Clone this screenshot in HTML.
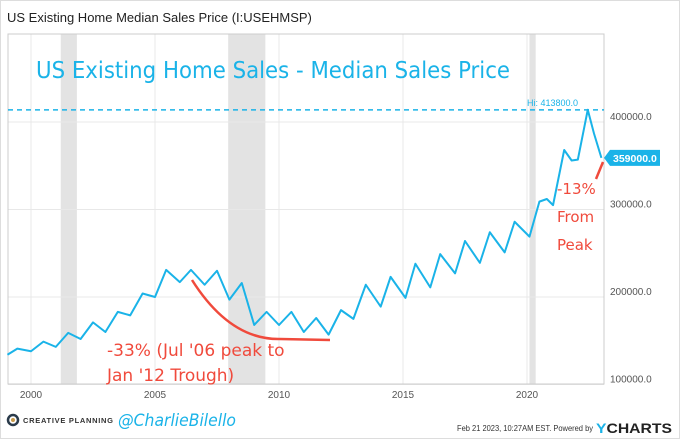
<!DOCTYPE html>
<html><head><meta charset="utf-8"><style>
html,body{margin:0;padding:0;background:#fff;}
body{width:680px;height:439px;overflow:hidden;position:relative;font-family:"Liberation Sans",sans-serif;}
</style></head><body>
<svg id="chart" width="680" height="439" style="position:absolute;left:0;top:0">
<rect x="0.5" y="0.5" width="679" height="438" fill="#fff" stroke="#ddd"/>
<text x="7" y="22" font-size="13" fill="#222">US Existing Home Median Sales Price (I:USEHMSP)</text>
<g id="rec"></g><g id="grid"></g>
<rect x="8" y="34" width="596" height="350" fill="none" stroke="#ccc"/>
<g id="ticks"></g>
<text x="36" y="78" font-size="23" fill="#1ab3e8" font-family="DejaVu Sans, sans-serif" textLength="474" lengthAdjust="spacingAndGlyphs">US Existing Home Sales - Median Sales Price</text>
<path id="redcurve" d="M192,280 Q230,340 280,339 L330,340" fill="none" stroke="#f04a3c" stroke-width="2.5"/>
<text x="107" y="356" font-size="17" fill="#f04a3c" font-family="DejaVu Sans, sans-serif">-33% (Jul '06 peak to</text>
<text x="107" y="381" font-size="17" fill="#f04a3c" font-family="DejaVu Sans, sans-serif">Jan '12 Trough)</text>
<line x1="603" y1="162" x2="596" y2="179" stroke="#f04a3c" stroke-width="2.5"/>
<text x="557" y="194" font-size="15" fill="#f04a3c" font-family="DejaVu Sans, sans-serif">-13%</text>
<text x="557" y="222" font-size="15" fill="#f04a3c" font-family="DejaVu Sans, sans-serif">From</text>
<text x="557" y="250" font-size="15" fill="#f04a3c" font-family="DejaVu Sans, sans-serif">Peak</text>
<g id="series"></g>
<circle cx="13" cy="420" r="5" fill="none" stroke="#2a3a4a" stroke-width="2.5"/>
<circle cx="13" cy="420" r="2" fill="#c89a4a"/>
<text x="23" y="423" font-size="7.5" fill="#333" font-weight="bold" textLength="90">CREATIVE PLANNING</text>
<text x="118" y="426" font-size="17" fill="#1ab3e8" font-family="DejaVu Sans, sans-serif" font-style="italic" textLength="118" lengthAdjust="spacingAndGlyphs">@CharlieBilello</text>
<text x="457" y="431" font-size="8.5" fill="#333" textLength="136" lengthAdjust="spacingAndGlyphs">Feb 21 2023, 10:27AM EST.  Powered by</text>
<text x="596" y="433" font-size="14" fill="#222" font-weight="bold" textLength="76" lengthAdjust="spacingAndGlyphs"><tspan fill="#1ab3e8">Y</tspan>CHARTS</text>
</svg>
<script>
const years=[1999.05,1999.45,2000.0,2000.5,2001.0,2001.5,2002.0,2002.5,2003.0,2003.5,2004.0,2004.5,2005.0,2005.45,2006.0,2006.45,2007.0,2007.5,2008.0,2008.5,2009.0,2009.5,2010.0,2010.5,2011.0,2011.5,2012.0,2012.5,2013.0,2013.5,2014.1,2014.5,2015.1,2015.5,2016.1,2016.5,2017.1,2017.5,2018.1,2018.5,2019.1,2019.5,2020.1,2020.5,2020.8,2021.05,2021.5,2021.8,2022.05,2022.45,2022.7,2023.0];
const prices=[134,141,138,149,143,159,152,171,160,183,179,204,200,231,217,231,214,230,197,216,168,183,168,183,160,176,157,185,175,214,189,223,199,238,211,249,227,264,239,274,251,286,269,309,312,305,368,356,357,414,387,359];
const yTicks=[100000,200000,300000,400000];
const xTicks=[2000,2005,2010,2015,2020];
const recessions=[[2001.2,2001.85],[2007.95,2009.45],[2020.1,2020.35]];
const hiValue=413800, lastValue=359000;
const X=y=>31+(y-2000)*24.8;
const Y=v=>122-(v-400)*0.875;
const NS="http://www.w3.org/2000/svg";
function mk(t,a,p){const e=document.createElementNS(NS,t);for(const k in a)e.setAttribute(k,a[k]);p.appendChild(e);return e;}
const rec=document.getElementById('rec'),grid=document.getElementById('grid'),ticks=document.getElementById('ticks'),ser=document.getElementById('series');
recessions.forEach(r=>{const e=mk('rect',{x:X(r[0]),y:34,width:X(r[1])-X(r[0]),height:350,fill:'#e3e3e3'},rec);

});
yTicks.forEach(v=>{const y=Y(v/1000);
const l=mk('line',{x1:8,x2:604,y1:y,y2:y,stroke:'#e8e8e8'},grid);


const t=mk('text',{x:610,y:y-2,'font-size':10,fill:'#555'},ticks);t.textContent=v.toFixed(1);

});
xTicks.forEach(v=>{const x=X(v);
const l=mk('line',{x1:x,x2:x,y1:34,y2:384,stroke:'#e8e8e8'},grid);


const t=mk('text',{x:x,y:398,'font-size':10,fill:'#555','text-anchor':'middle'},ticks);t.textContent=v;

});
const hy=Y(hiValue/1000);
const hl=mk('line',{x1:8,x2:604,y1:hy,y2:hy,stroke:'#1ab3e8','stroke-width':1.5,'stroke-dasharray':'5,4'},ser);


const ht=mk('text',{x:527,y:hy-4,'font-size':9,fill:'#1ab3e8'},ser);ht.textContent='Hi: '+hiValue.toFixed(1);


const pl=mk('polyline',{points:years.map((y,i)=>X(y)+','+Y(prices[i])).join(' '),fill:'none',stroke:'#1ab3e8','stroke-width':2,'stroke-linejoin':'round'},ser);


const ly=Y(lastValue/1000);
const tag=mk('path',{d:`M604,${ly} L610,${ly-8} L660,${ly-8} L660,${ly+8} L610,${ly+8} Z`,fill:'#1ab3e8'},ser);


const tt=mk('text',{x:613,y:ly+4,'font-size':10.5,fill:'#fff','font-weight':'bold'},ser);tt.textContent=lastValue.toFixed(1);


</script>
</body></html>
